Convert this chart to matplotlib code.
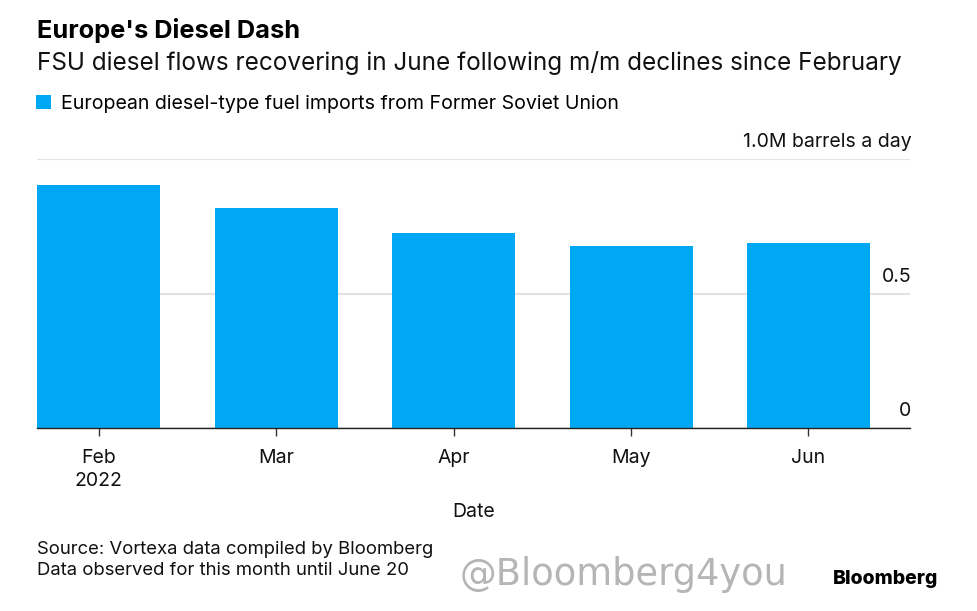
import matplotlib.pyplot as plt
import matplotlib.transforms as mtransforms

plt.rcParams['font.family'] = ['Inter', 'DejaVu Sans']

# data (million barrels a day)
months = ['Feb\n2022', 'Mar', 'Apr', 'May', 'Jun']
imports = [0.903, 0.818, 0.725, 0.677, 0.688]
y_ticks = [0, 0.5, 1.0]
y_labels = ['0', '0.5', '1.0M barrels a day']

bar_color = '#00a8f3'
W, H = 977, 611

fig = plt.figure(figsize=(9.77, 6.11), dpi=100)
ax = fig.add_axes([37 / W, 1 - 428 / H, (910 - 37) / W, (428 - 159) / H])

x = range(len(months))
ax.bar(x, imports, width=0.693, color=bar_color, zorder=2,
       label='European diesel-type fuel imports from Former Soviet Union')
ax.set_xlim(-0.347, 4.572)
ax.set_ylim(0, 1.0)

for s in ['top', 'right', 'left']:
    ax.spines[s].set_visible(False)
ax.spines['bottom'].set_color('#222222')
ax.spines['bottom'].set_linewidth(1.0)
ax.spines['bottom'].set_zorder(3)

ax.set_yticks(y_ticks)
ax.tick_params(axis='y', length=0, labelleft=False)
ax.yaxis.grid(True, color='#e2e2e2', linewidth=1.5, zorder=0)

# y labels sit above gridlines, right aligned
off = mtransforms.offset_copy(ax.get_yaxis_transform(), fig=fig, x=1.5, y=8, units='dots')
for v, lab in zip(y_ticks, y_labels):
    ax.text(1.0, v, lab, transform=off, ha='right', va='bottom', fontsize=14, color='#111111')

ax.set_xticks(list(x))
ax.set_xticklabels(months, fontsize=14, color='#111111', linespacing=1.4)
ax.tick_params(axis='x', length=6, width=1, color='#333333', pad=9)
ax.set_xlabel('Date', fontsize=14, color='#111111', labelpad=9)

# titles
fig.text(37 / W, 1 - 38 / H, "Europe's Diesel Dash", fontsize=18.3, fontweight='bold', va='baseline')
fig.text(37 / W, 1 - 70 / H, 'FSU diesel flows recovering in June following m/m declines since February',
         fontsize=17.5, va='baseline', color='#111111')

fig.legend(loc='upper left', bbox_to_anchor=(36 / W, 1 - 95 / H), frameon=False, fontsize=14.1,
           handlelength=0.75, handleheight=0.75, handletextpad=0.55, borderpad=0, borderaxespad=0)

# footer
fig.text(37 / W, 1 - 554 / H, 'Source: Vortexa data compiled by Bloomberg', fontsize=13.3, va='baseline', color='#111111')
fig.text(37 / W, 1 - 575 / H, 'Data observed for this month until June 20', fontsize=13.3, va='baseline', color='#111111')
fig.text(460 / W, 1 - 585 / H, '@Bloomberg4you', fontsize=26.5, va='baseline', color='#b5b5b5', family=['DejaVu Sans'])
fig.text(938 / W, 1 - 584 / H, 'Bloomberg', fontsize=14, fontweight='heavy', va='baseline', ha='right')

fig.savefig('out.png', dpi=100)
